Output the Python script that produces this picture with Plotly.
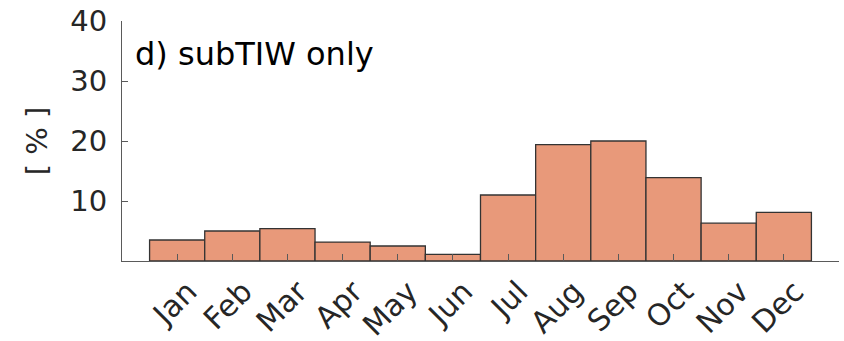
import plotly.graph_objects as go

months = ["Jan", "Feb", "Mar", "Apr", "May", "Jun", "Jul", "Aug", "Sep", "Oct", "Nov", "Dec"]
month_pos = [1, 2, 3, 4, 5, 6, 7, 8, 9, 10, 11, 12]
values = [3.5, 5.0, 5.4, 3.15, 2.5, 1.1, 11.0, 19.4, 20.0, 13.9, 6.3, 8.1]
y_ticks = [10, 20, 30, 40]
title_text = "d) subTIW only"
y_label = "[ % ]"

FONT = "DejaVu Sans"
TXT = "#262626"
AX = "#5a5a5a"

fig = go.Figure()
fig.add_trace(go.Bar(
    x=month_pos, y=values, width=1.0,
    marker=dict(color="#E8997A", line=dict(color="#333333", width=1.3)),
))
fig.update_layout(
    width=844, height=341,
    margin=dict(l=122, r=5, t=21, b=80, autoexpand=False),
    paper_bgcolor="white", plot_bgcolor="white",
    showlegend=False,
    xaxis=dict(
        range=[0, 13], tickmode="array", tickvals=month_pos, ticktext=months,
        tickangle=-45, ticks="inside", ticklen=7, tickcolor=AX, tickwidth=1,
        showline=True, linecolor=AX, linewidth=1, showgrid=False, zeroline=False,
        tickfont=dict(family=FONT, size=30, color=TXT), automargin=False,
        ticklabelshift=11, ticklabelstandoff=0, ticklabeloverflow="allow",
    ),
    yaxis=dict(
        range=[0, 40], tickmode="array", tickvals=y_ticks,
        ticks="inside", ticklen=6, tickcolor=AX, tickwidth=1,
        showline=True, linecolor=AX, linewidth=1, showgrid=False, zeroline=False,
        tickfont=dict(family=FONT, size=29, color=TXT), automargin=False,
        ticklabelstandoff=8, ticklabeloverflow="allow",
        title=dict(text=y_label, font=dict(family=FONT, size=29, color=TXT), standoff=14),
    ),
    annotations=[dict(
        text=title_text, xref="paper", yref="paper", x=0.016, y=0.862,
        xanchor="left", yanchor="middle", showarrow=False,
        font=dict(family=FONT, size=32, color="#000000"),
    )],
)
fig.write_html(
    "out.html",
    config={"displayModeBar": False},
    post_script="document.body.style.margin='0';document.body.style.overflow='hidden';",
)
